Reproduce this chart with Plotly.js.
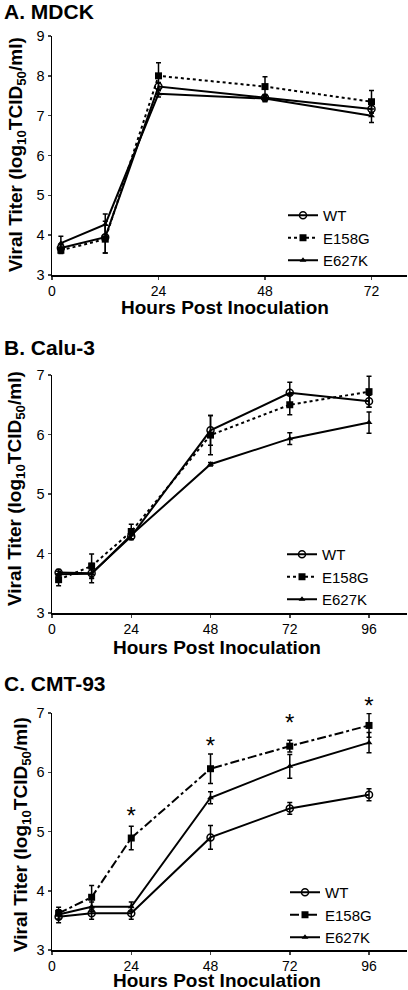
<!DOCTYPE html>
<html>
<head>
<meta charset="utf-8">
<script src="https://cdn.plot.ly/plotly-3.0.1.min.js"></script>
<style>html,body{margin:0;padding:0;background:#fff;}#chart{width:408px;height:990px;}</style>
</head>
<body>
<div id="chart"></div>
<script>
// ---------- data ----------
const seriesNames = ["WT", "E158G", "E627K"];
const panelTitles = ["A. MDCK", "B. Calu-3", "C. CMT-93"];
const xTitle = "Hours Post Inoculation";
const yTitle = "Viral Titer (log<sub>10</sub>TCID<sub>50</sub>/ml)";

const hoursA = [2, 12, 24, 48, 72];
const wtA = [3.68, 3.95, 7.73, 7.45, 7.17];
const wtAerr = [0.10, 0.40, 0.10, 0.08, 0.10];
const e158gA = [3.62, 3.90, 8.00, 7.73, 7.35];
const e158gAerr = [0.08, 0.35, 0.33, 0.25, 0.28];
const e627kA = [3.80, 4.27, 7.55, 7.43, 7.00];
const e627kAerr = [0.17, 0.26, 0.08, 0.08, 0.17];

const hoursB = [2, 12, 24, 48, 72, 96];
const wtB = [3.68, 3.67, 4.29, 6.07, 6.70, 6.56];
const wtBerr = [0.05, 0.16, 0.05, 0.25, 0.18, 0.10];
const e158gB = [3.56, 3.79, 4.37, 5.99, 6.50, 6.72];
const e158gBerr = [0.10, 0.20, 0.12, 0.33, 0.17, 0.26];
const e627kB = [3.65, 3.66, 4.31, 5.50, 5.93, 6.20];
const e627kBerr = [0.05, 0.08, 0.08, 0.03, 0.10, 0.18];

const hoursC = [2, 12, 24, 48, 72, 96];
const wtC = [3.56, 3.62, 3.62, 4.90, 5.39, 5.62];
const wtCerr = [0.10, 0.10, 0.10, 0.20, 0.10, 0.10];
const e158gC = [3.62, 3.89, 4.89, 6.06, 6.44, 6.79];
const e158gCerr = [0.10, 0.20, 0.20, 0.25, 0.10, 0.20];
const e627kC = [3.60, 3.73, 3.73, 5.57, 6.10, 6.50];
const e627kCerr = [0.08, 0.08, 0.08, 0.10, 0.20, 0.17];

// significance markers (panel C)
const starX = [24, 48, 72, 96];
const starY = [5.32, 6.49, 6.89, 7.17];
const starText = ["*", "*", "*", "*"];

const yTicksA = [3, 4, 5, 6, 7, 8, 9];
const yTicksBC = [3, 4, 5, 6, 7];
const xTicksA = [0, 24, 48, 72];
const xTicksBC = [0, 24, 48, 72, 96];

// ---------- styling ----------
const FONT = "Liberation Sans, Arial, sans-serif";
const BLACK = "#000";
const markerStyles = [
  {symbol: "circle-open", size: 7, color: BLACK, line: {width: 1.5, color: BLACK}},
  {symbol: "square", size: 7, color: BLACK},
  {symbol: "triangle-up", size: 6, color: BLACK}
];

function mk(x, y, err, idx, xa, ya, leg, dash) {
  return {
    type: "scatter", mode: "lines+markers", x: x, y: y,
    name: seriesNames[idx], xaxis: xa, yaxis: ya, legend: leg,
    line: {color: BLACK, width: 2, dash: dash},
    marker: markerStyles[idx],
    error_y: {type: "data", array: err, visible: true, color: BLACK, thickness: 1.5, width: 2.5},
    cliponaxis: false
  };
}

const M = {l: 52, r: 1, t: 36, b: 40};
const H = 990, PH = H - M.t - M.b, W = 408, PW = W - M.l - M.r;
const fy = p => (H - M.b - p) / PH;   // pixel y -> paper y
const fx = p => (p - M.l) / PW;       // pixel x -> paper x

// panel C geometry and an invisible taller twin axis (same scale) for the asterisks
const cTop = 713, cBot = H - M.b, cRange = [3, 7];
const unitsPerPx = (cRange[1] - cRange[0]) / (cBot - cTop);
const starTop = 680;
const glyphDrop = 5; // px: '*' glyph sits high in its text box
const starRange = [cRange[0] + glyphDrop * unitsPerPx,
                   cRange[0] + (cBot - starTop + glyphDrop) * unitsPerPx];

const data = [
  mk(hoursA, wtA, wtAerr, 0, "x", "y", "legend", "solid"),
  mk(hoursA, e158gA, e158gAerr, 1, "x", "y", "legend", "dot"),
  mk(hoursA, e627kA, e627kAerr, 2, "x", "y", "legend", "solid"),
  mk(hoursB, wtB, wtBerr, 0, "x2", "y2", "legend2", "solid"),
  mk(hoursB, e158gB, e158gBerr, 1, "x2", "y2", "legend2", "dot"),
  mk(hoursB, e627kB, e627kBerr, 2, "x2", "y2", "legend2", "solid"),
  mk(hoursC, wtC, wtCerr, 0, "x3", "y3", "legend3", "solid"),
  mk(hoursC, e158gC, e158gCerr, 1, "x3", "y3", "legend3", "dashdot"),
  mk(hoursC, e627kC, e627kCerr, 2, "x3", "y3", "legend3", "solid"),
  {type: "scatter", mode: "text", x: starX, y: starY, text: starText, xaxis: "x3", yaxis: "y4",
   textposition: "middle center", showlegend: false, cliponaxis: false, hoverinfo: "skip",
   textfont: {family: FONT, size: 24, color: BLACK}}
];

function xax(anchor, range, ticks) {
  return {anchor: anchor, range: range, tickvals: ticks, ticks: "outside", ticklen: 3, tickwidth: 1.5,
    showline: true, linecolor: BLACK, linewidth: 1.5, showgrid: false, zeroline: false,
    tickfont: {family: FONT, size: 14, color: BLACK}, fixedrange: true};
}
function yax(anchor, domain, range, ticks) {
  return {anchor: anchor, domain: domain, range: range, tickvals: ticks, ticks: "outside", ticklen: 3, tickwidth: 1.5,
    showline: true, linecolor: BLACK, linewidth: 1.5, showgrid: false, zeroline: false,
    tickfont: {family: FONT, size: 14.5, color: BLACK}, fixedrange: true};
}

function legendAt(px, py) {
  return {x: fx(px), y: fy(py), xanchor: "left", yanchor: "top", bgcolor: "rgba(0,0,0,0)",
    font: {family: FONT, size: 15, color: BLACK}, itemwidth: 30, tracegroupgap: 0};
}

const annotations = [];
const titlePos = [[2, 12], [2, 348], [2, 683]];
panelTitles.forEach((t, i) => annotations.push({text: "<b>" + t + "</b>", xref: "paper", yref: "paper",
  x: fx(titlePos[i][0]), y: fy(titlePos[i][1]), xanchor: "left", yanchor: "middle", showarrow: false,
  font: {family: FONT, size: 21, color: BLACK}}));
const xtPos = [[225, 308], [217, 647], [217, 980.5]];
xtPos.forEach(p => annotations.push({text: "<b>" + xTitle + "</b>", xref: "paper", yref: "paper",
  x: fx(p[0]), y: fy(p[1]), xanchor: "center", yanchor: "middle", showarrow: false,
  font: {family: FONT, size: 19, color: BLACK}}));
const ytPos = [[17, 155], [16, 489], [22, 835]];
ytPos.forEach(p => annotations.push({text: "<b>" + yTitle + "</b>", xref: "paper", yref: "paper",
  x: fx(p[0]), y: fy(p[1]), xanchor: "center", yanchor: "middle", textangle: -90, showarrow: false,
  font: {family: FONT, size: 19, color: BLACK}}));

const layout = {
  width: W, height: H, margin: M, paper_bgcolor: "#fff", plot_bgcolor: "rgba(0,0,0,0)",
  showlegend: true,
  xaxis: xax("y", [0, 80], xTicksA),
  yaxis: yax("x", [fy(275), 1], [3, 9], yTicksA),
  xaxis2: xax("y2", [0, 107.5], xTicksBC),
  yaxis2: yax("x2", [fy(613), fy(375)], [3, 7], yTicksBC),
  xaxis3: xax("y3", [0, 107.5], xTicksBC),
  yaxis3: yax("x3", [0, fy(cTop)], cRange, yTicksBC),
  yaxis4: {anchor: "x3", domain: [0, fy(starTop)], range: starRange, visible: false, fixedrange: true},
  legend: legendAt(283, 199),
  legend2: legendAt(282, 538),
  legend3: legendAt(285, 876),
  annotations: annotations
};

Plotly.newPlot("chart", data, layout, {displayModeBar: false, staticPlot: true});
</script>
</body>
</html>
